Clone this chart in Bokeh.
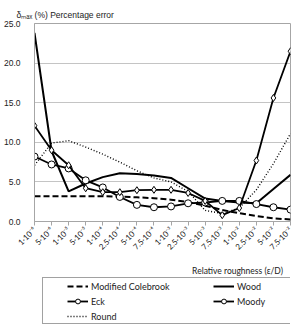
import math
from bokeh.plotting import figure
from bokeh.layouts import column
from bokeh.models import (Range1d, FixedTicker, Legend, LegendItem,
                          NumeralTickFormatter)
from bokeh.core.properties import value
from bokeh.embed import file_html
from bokeh.resources import INLINE

# ---- data -------------------------------------------------------------
categories = ["1·10⁻⁶", "5·10⁻⁶", "1·10⁻⁵", "5·10⁻⁵", "1·10⁻⁴", "2.5·10⁻⁴",
              "5·10⁻⁴", "7.5·10⁻⁴", "1·10⁻³", "2.5·10⁻³", "5·10⁻³", "7.5·10⁻³",
              "1·10⁻²", "2.5·10⁻²", "5·10⁻²", "7.5·10⁻²"]
modified_colebrook = [3.2, 3.2, 3.2, 3.2, 3.2, 3.15, 3.05, 2.95,
                      2.75, 2.45, 2.0, 1.45, 1.05, 0.7, 0.4, 0.25]
wood = [23.8, 8.9, 3.8, 4.8, 5.6, 6.1, 6.0, 5.8,
        5.5, 4.2, 2.9, 2.6, 2.4, 2.3, 4.1, 5.9]
eck = [8.2, 7.2, 6.7, 5.2, 4.3, 3.1, 2.1, 1.8,
       1.9, 2.3, 2.4, 2.6, 2.6, 2.2, 1.8, 1.5]
moody = [12.1, 9.0, 7.1, 4.2, 3.7, 3.7, 3.95, 4.0,
         4.0, 3.6, 2.6, 0.8, 1.7, 7.7, 15.6, 21.5]
round_ = [7.1, 9.9, 10.2, 9.4, 8.5, 7.5, 6.4, 5.5,
          5.0, 3.8, 1.4, 1.0, 1.7, 4.0, 7.3, 11.1]
y_ticks = [0, 5, 10, 15, 20, 25]
x_title = "Relative roughness (ε/D)"

x = list(range(len(categories)))

W, H_TOTAL = 302, 328
H_MAIN = 262
H_LEG = H_TOTAL - H_MAIN
FL, FT, FB = 32, 23, 221   # frame left, top, bottom (canvas px)

# ---- main figure ------------------------------------------------------
p = figure(width=W, height=H_MAIN, output_backend="svg", toolbar_location=None,
           x_range=Range1d(0, len(categories) - 1), y_range=Range1d(0, 25),
           min_border_left=FL, min_border_right=12, min_border_top=FT,
           min_border_bottom=H_MAIN - FB,
           title="δₘₐₓ (%)  Percentage error")
p.background_fill_color = "white"
p.border_fill_color = "white"
p.outline_line_color = "#a6a6a6"
p.outline_line_width = 1

p.title.align = "left"
p.title.offset = -18
p.title.standoff = 8
p.title.text_font = "Liberation Sans"
p.title.text_font_size = "8.5px"
p.title.text_font_style = "normal"
p.title.text_color = "#222222"

p.xgrid.visible = False
p.ygrid.grid_line_color = "#c4c4c4"
p.ygrid.grid_line_width = 1
p.ygrid.ticker = FixedTicker(ticks=y_ticks)

p.yaxis.ticker = FixedTicker(ticks=y_ticks)
p.yaxis.formatter = NumeralTickFormatter(format="0.0")
p.yaxis.axis_line_color = "#a6a6a6"
p.yaxis.major_tick_line_color = None
p.yaxis.minor_tick_line_color = None
p.yaxis.major_label_standoff = 8
p.yaxis.major_label_text_font = "Liberation Sans"
p.yaxis.major_label_text_font_size = "8.5px"
p.yaxis.major_label_text_color = "#222222"

p.xaxis.ticker = FixedTicker(ticks=x)
p.xaxis.major_label_overrides = {i: c for i, c in zip(x, categories)}
p.xaxis.major_label_orientation = math.pi / 4
p.xaxis.axis_line_color = "#a6a6a6"
p.xaxis.major_tick_line_color = "#a6a6a6"
p.xaxis.major_tick_in = 0
p.xaxis.major_tick_out = 4
p.xaxis.minor_tick_line_color = None
p.xaxis.major_label_standoff = 3
p.xaxis.major_label_text_font = "Lato"
p.xaxis.major_label_text_font_size = "8px"
p.xaxis.major_label_text_color = "#222222"

# ---- series -----------------------------------------------------------
STY = {
    "cole": dict(line_color="black", line_width=2, line_dash="6 3"),
    "wood": dict(line_color="black", line_width=2),
    "round": dict(line_color="black", line_width=1.4, line_dash="1 2"),
    "mline": dict(line_color="black", line_width=1.8),
}
p.line(x, modified_colebrook, **STY["cole"])
p.line(x, wood, **STY["wood"])
p.line(x, round_, **STY["round"])
p.line(x, eck, **STY["mline"])
p.scatter(x, eck, marker="circle", size=7, fill_color="white",
          line_color="black", line_width=1)
p.line(x, moody, **STY["mline"])
p.scatter(x, moody, marker="diamond", size=7, fill_color="white",
          line_color="black", line_width=1)

# ---- lower figure: axis title + legend (pixel ranges) -----------------
q = figure(width=W, height=H_LEG, output_backend="svg", toolbar_location=None,
           x_range=Range1d(0, W), y_range=Range1d(0, H_LEG),
           x_axis_type=None, y_axis_type=None,
           min_border_left=0, min_border_right=0, min_border_top=0,
           min_border_bottom=0)
q.outline_line_color = None
q.xgrid.visible = False
q.ygrid.visible = False
q.background_fill_color = "white"
q.border_fill_color = "white"

off = [-10]
d_cole = q.line(off, off, **STY["cole"])
d_wood = q.line(off, off, **STY["wood"])
d_round = q.line(off, off, **STY["round"])
d_eck_l = q.line(off, off, **STY["mline"])
d_eck_m = q.scatter(off, off, marker="circle", size=7, fill_color="white",
                    line_color="black", line_width=1)
d_moody_l = q.line(off, off, **STY["mline"])
d_moody_m = q.scatter(off, off, marker="circle", size=7, fill_color="white",
                      line_color="black", line_width=1)
d_box = q.line(off, off, line_alpha=0)

# axis title, right-aligned under the plot's right edge
q.text(x=[293], y=[H_TOTAL - 270], text=[x_title], text_align="right",
       text_baseline="middle", text_font=value("Lato"),
       text_font_size="8.5px", text_color="#222222")

LEG_TOP, LEG_BOT, LEG_L, LEG_R = 279, 324, 8, 297
box = Legend(items=[LegendItem(label=" ", renderers=[d_box])],
             location=(LEG_L, H_TOTAL - LEG_BOT), padding=0, margin=0,
             glyph_width=LEG_R - LEG_L - 3, glyph_height=LEG_BOT - LEG_TOP,
             label_width=0, label_height=0, label_standoff=0,
             label_text_font_size="10px",
             border_line_color="#444444", border_line_width=1,
             background_fill_color="white", background_fill_alpha=1)

common = dict(padding=0, margin=0, glyph_width=21, glyph_height=12,
              label_height=12, label_standoff=3, spacing=3,
              label_text_font="Lato", label_text_font_size="9px",
              label_text_color="#222222",
              border_line_alpha=0, background_fill_alpha=0)
row1_top = 280
leg1 = Legend(items=[LegendItem(label="Modified Colebrook", renderers=[d_cole]),
                     LegendItem(label="Eck", renderers=[d_eck_l, d_eck_m]),
                     LegendItem(label="Round", renderers=[d_round])],
              location=(33, H_TOTAL - (row1_top + 42)), **common)
leg2 = Legend(items=[LegendItem(label="Wood", renderers=[d_wood]),
                     LegendItem(label="Moody", renderers=[d_moody_l, d_moody_m])],
              location=(179, H_TOTAL - (row1_top + 27)), **common)
q.add_layout(box)
q.add_layout(leg1)
q.add_layout(leg2)

layout = column(p, q, spacing=0)
open("out.html", "w").write(file_html(layout, INLINE))
